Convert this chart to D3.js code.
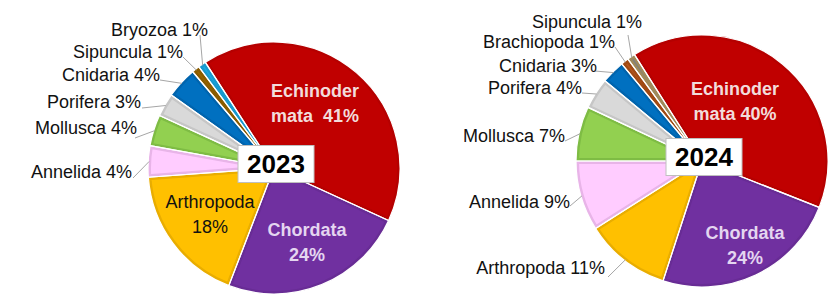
<!DOCTYPE html>
<html>
<head>
<meta charset="utf-8">
<script src="https://cdn.jsdelivr.net/npm/d3@7"></script>
<style>
  body { margin: 0; background: #fff; }
  svg { display: block; }
  text { font-family: "Liberation Sans", Arial, sans-serif; white-space: pre; }
</style>
</head>
<body>
<div id="chart"></div>
<script>
// data
const years = ["2023", "2024"];
const phyla2023 = ["Echinodermata", "Chordata", "Arthropoda", "Annelida", "Mollusca", "Porifera", "Cnidaria", "Sipuncula", "Bryozoa"];
const share2023 = [41, 24, 18, 4, 4, 3, 4, 1, 1];
const phyla2024 = ["Echinodermata", "Chordata", "Arthropoda", "Annelida", "Mollusca", "Porifera", "Cnidaria", "Brachiopoda", "Sipuncula"];
const share2024 = [40, 24, 11, 9, 7, 4, 3, 1, 1];

// fill / inner border colours
const baseColors = {
    Echinodermata: ["#C00000", "#B50000"],
    Chordata: ["#7030A0", "#682C95"],
    Arthropoda: ["#FFC000", "#E9AD00"],
    Annelida: ["#FFCCFF", "#E8B4E8"],
    Mollusca: ["#92D050", "#7EBC44"],
    Porifera: ["#D9D9D9", "#C6C6C6"],
    Cnidaria: ["#0070C0", "#0064AD"],
    Bryozoa: ["#1DA9E2", "#1899CF"],
    Brachiopoda: ["#B5561C", "#A04A14"]
};

const width = 836, height = 300, radius = 126;

const pies = [
    {
        year: years[0], names: phyla2023, values: share2023, cx: 274, cy: 168, start: -33,
        colors: Object.assign({}, baseColors, { Sipuncula: ["#996600", "#8A5C00"] }),
        // outside labels: text end offset, leader start offset
        out: {
            Bryozoa: [-66, -138, -8, 5],
            Sipuncula: [-91, -116, 0, 5],
            Cnidaria: [-114, -93, 0, 5],
            Porifera: [-133, -66, 1, 6],
            Mollusca: [-137, -40, -2, 10],
            Annelida: [-142, 4, 1, 6]
        },
        inside: {
            Echinodermata: { pos: [41, -65], lines: ["Echinoder", "mata  41%"], color: "#F2DCDB", bold: true },
            Chordata: { pos: [33, 74], lines: ["Chordata", "24%"], color: "#E4D6F0", bold: true },
            Arthropoda: { pos: [-64, 46], lines: ["Arthropoda", "18%"], color: "#111", bold: false }
        }
    },
    {
        year: years[1], names: phyla2024, values: share2024, cx: 702, cy: 161, start: -32.4,
        colors: Object.assign({}, baseColors, { Sipuncula: ["#7F7F7F", "#A08A5A"] }),
        out: {
            Sipuncula: [-60, -139, -14, 13],
            Brachiopoda: [-87, -119, 0, 5],
            Cnidaria: [-105, -95, -2, 5],
            Porifera: [-120, -73, 0, 5],
            Mollusca: [-137, -25, 0, 5],
            Annelida: [-132, 41, 0, 4],
            Arthropoda: [-97, 107, 3, 9]
        },
        inside: {
            Echinodermata: { pos: [33, -60], lines: ["Echinoder", "mata 40%"], color: "#F2DCDB", bold: true },
            Chordata: { pos: [43, 84], lines: ["Chordata", "24%"], color: "#E4D6F0", bold: true }
        }
    }
];

const svg = d3.select("#chart").append("svg")
    .attr("width", width)
    .attr("height", height);

const defs = svg.append("defs");

const arc = d3.arc().innerRadius(0).outerRadius(radius);

pies.forEach((p, pi) => {
    const rows = p.names.map((n, i) => ({ name: n, value: p.values[i] }));
    const a0 = p.start * Math.PI / 180;

    const pie = d3.pie()
        .sort(null)
        .value(d => d.value)
        .startAngle(a0)
        .endAngle(a0 + 2 * Math.PI);

    const arcs = pie(rows);

    const g = svg.append("g")
        .attr("transform", `translate(${p.cx},${p.cy})`);

    // slices with an inner darker rim (clip keeps the stroke inside)
    arcs.forEach((d, i) => {
        const id = `clip-${pi}-${i}`;
        defs.append("clipPath").attr("id", id)
            .append("path")
            .attr("d", arc(d));
        g.append("path")
            .attr("clip-path", `url(#${id})`)
            .attr("d", arc(d))
            .attr("fill", p.colors[d.data.name][0])
            .attr("stroke", p.colors[d.data.name][1])
            .attr("stroke-width", 6);
    });

    // thin white separators
    g.append("g").selectAll("path")
        .data(arcs)
        .join("path")
        .attr("d", arc)
        .attr("fill", "none")
        .attr("stroke", "#fff")
        .attr("stroke-width", 1.2)
        .attr("stroke-linejoin", "round");

    const lab = g.append("g");

    // outside labels and leader lines
    arcs.forEach(d => {
        const o = p.out[d.data.name];
        if (!o) return;
        const mid = (d.startAngle + d.endAngle) / 2;
        const ex = Math.sin(mid) * (radius - 1);
        const ey = -Math.cos(mid) * (radius - 1);
        lab.append("line")
            .attr("x1", o[0] + o[2]).attr("y1", o[1] + o[3])
            .attr("x2", ex).attr("y2", ey)
            .attr("stroke", "#A6A6A6")
            .attr("stroke-width", 1);
        lab.append("text")
            .attr("x", o[0])
            .attr("y", o[1])
            .attr("dy", "0.36em")
            .attr("text-anchor", "end")
            .attr("font-size", 18)
            .attr("fill", "#111")
            .text(`${d.data.name} ${d.data.value}%`);
    });

    // labels inside the big slices
    arcs.forEach(d => {
        const t = p.inside[d.data.name];
        if (!t) return;
        const txt = lab.append("text")
            .attr("text-anchor", "middle")
            .attr("font-size", 18)
            .attr("font-weight", t.bold ? "bold" : "normal")
            .attr("fill", t.color);
        t.lines.forEach((s, k) => {
            txt.append("tspan")
                .attr("x", t.pos[0])
                .attr("y", t.pos[1] + (k - 0.5) * 25)
                .attr("dy", "0.36em")
                .text(s);
        });
    });

    // year box
    const box = lab.append("g").attr("transform", "translate(2,-4)");
    box.append("rect")
        .attr("x", -38).attr("y", -18.5)
        .attr("width", 76).attr("height", 37)
        .attr("fill", "#fff")
        .attr("stroke", "#BFBFBF")
        .attr("stroke-width", 1);
    box.append("text")
        .attr("text-anchor", "middle")
        .attr("dy", "0.36em")
        .attr("font-size", 26)
        .attr("font-weight", "bold")
        .attr("fill", "#000")
        .text(p.year);
});
</script>
</body>
</html>
